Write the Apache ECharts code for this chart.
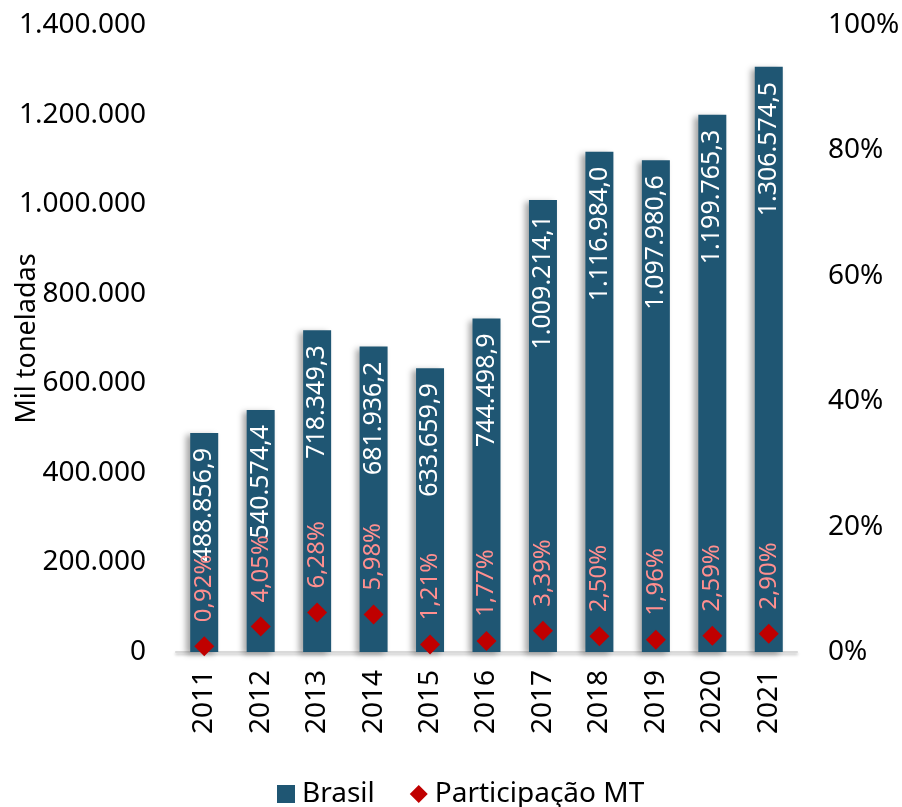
<!DOCTYPE html>
<html>
<head>
<meta charset="utf-8">
<style>html,body{margin:0;padding:0;background:#fff}#c{width:902px;height:807px}</style>
<script src="https://cdn.jsdelivr.net/npm/echarts@6/dist/echarts.min.js"></script>
</head>
<body>
<div id="c"></div>
<script>
const years = ['2011','2012','2013','2014','2015','2016','2017','2018','2019','2020','2021'];
const brasil = [488856.9, 540574.4, 718349.3, 681936.2, 633659.9, 744498.9, 1009214.1, 1116984.0, 1097980.6, 1199765.3, 1306574.5];
const participacaoMT = [0.92, 4.05, 6.28, 5.98, 1.21, 1.77, 3.39, 2.50, 1.96, 2.59, 2.90];

function fmtBR(v, dec) {
  const s = v.toFixed(dec);
  const parts = s.split('.');
  const int = parts[0].replace(/\B(?=(\d{3})+(?!\d))/g, '.');
  return parts.length > 1 ? int + ',' + parts[1] : int;
}

const FONT = 'Noto Sans';
const chart = echarts.init(document.getElementById('c'));
chart.setOption({
  animation: false,
  textStyle: { fontFamily: FONT },
  grid: { left: 176, right: 105, top: 25, bottom: 155, containLabel: false, outerBoundsMode: 'none' },
  legend: {
    top: 775, left: 272,
    itemWidth: 18, itemHeight: 18, itemGap: 35,
    textStyle: { fontFamily: FONT, fontSize: 28, color: '#000', padding: [0, 0, 0, 2] },
    data: [{ name: 'Brasil', icon: 'rect' }, { name: 'Participação MT', icon: 'diamond' }]
  },
  xAxis: {
    type: 'category', data: years,
    axisLine: { lineStyle: { color: '#d9d9d9', width: 2, shadowColor: 'rgba(0,0,0,0.25)', shadowBlur: 3, shadowOffsetY: 2 } },
    axisTick: { show: false },
    axisLabel: { rotate: 90, fontSize: 28, color: '#000', margin: 18, fontFamily: FONT }
  },
  yAxis: [{
    type: 'value', min: 0, max: 1400000, interval: 200000,
    name: 'Mil toneladas', nameLocation: 'middle', nameGap: 135, nameRotate: 90, nameMoveOverlap: false,
    nameTextStyle: { fontSize: 27, color: '#000', fontFamily: FONT },
    axisLine: { show: false }, axisTick: { show: false }, splitLine: { show: false },
    axisLabel: { fontSize: 28, color: '#000', margin: 30, fontFamily: FONT, formatter: v => fmtBR(v, 0) }
  }, {
    type: 'value', min: 0, max: 100, interval: 20, position: 'right',
    axisLine: { show: false }, axisTick: { show: false }, splitLine: { show: false },
    axisLabel: { fontSize: 28, color: '#000', margin: 31, fontFamily: FONT, formatter: '{value}%' }
  }],
  series: [{
    name: 'Brasil', type: 'bar', data: brasil, barWidth: 28, yAxisIndex: 0,
    itemStyle: { color: '#1F5673', shadowColor: 'rgba(0,0,0,0.35)', shadowBlur: 6, shadowOffsetX: -4, shadowOffsetY: 2 },
    label: {
      show: true, position: 'insideTop', rotate: 90, align: 'right', verticalAlign: 'middle',
      distance: 15, color: '#fff', fontSize: 25, fontFamily: FONT,
      formatter: p => fmtBR(p.value, 1)
    },
    z: 2
  }, {
    name: 'Participação MT', type: 'scatter', data: participacaoMT, yAxisIndex: 1,
    symbol: 'diamond', symbolSize: 20,
    itemStyle: { color: '#C00000', opacity: 1 },
    label: {
      show: true, position: 'top', rotate: 90, align: 'left', verticalAlign: 'middle',
      distance: 14, color: '#FF8F8F', opacity: 1, fontSize: 24, fontFamily: FONT,
      formatter: p => fmtBR(p.value, 2) + '%'
    },
    z: 3
  }]
});
</script>
</body>
</html>
